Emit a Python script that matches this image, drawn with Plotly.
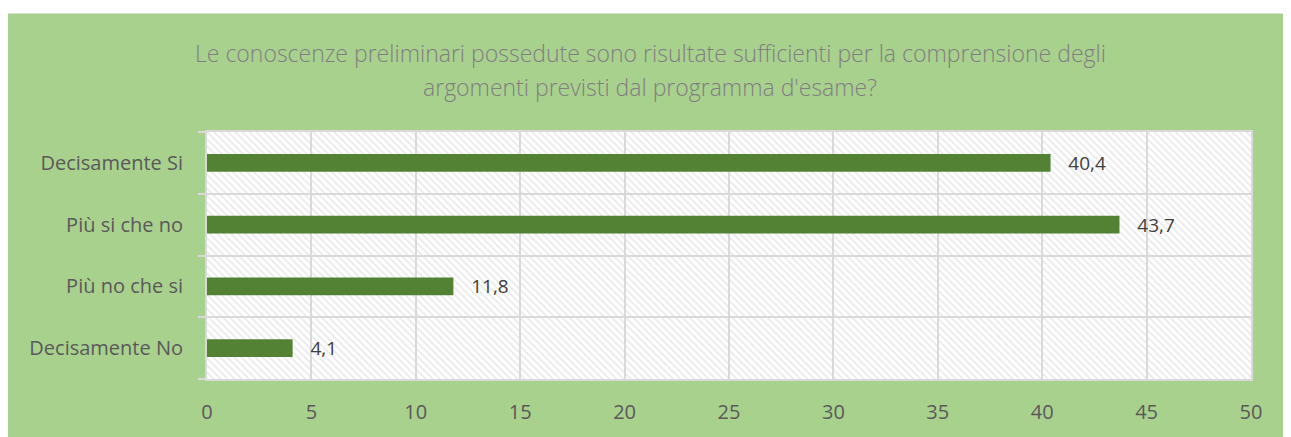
import plotly.graph_objects as go

categories = ["Decisamente Si", "Più si che no", "Più no che si", "Decisamente No"]
values = [40.4, 43.7, 11.8, 4.1]
x_ticks = [0, 5, 10, 15, 20, 25, 30, 35, 40, 45, 50]
title_lines = [
    "Le conoscenze preliminari possedute sono risultate sufficienti per la comprensione degli",
    "argomenti previsti dal programma d'esame?",
]

X_MAX = 50
GRID = "#d9d9d9"
FONT = "Open Sans"

# figure geometry (page has an 8px body margin)
W, H = 1283, 429
ML, MR, MT, MB = 199, 40, 124, 55
PW, PH = W - ML - MR, H - MT - MB

fig = go.Figure()

# hatched plot-area background (subplot 1, drawn first)
fig.add_trace(go.Bar(
    y=categories, x=[X_MAX] * len(categories), orientation="h", width=1,
    marker=dict(color="white", line=dict(width=0),
                pattern=dict(shape="\\", fgcolor="#d0d0d0", bgcolor="white", size=5, solidity=0.3)),
    xaxis="x", yaxis="y", hoverinfo="skip", showlegend=False,
))

# data bars (subplot 2, with gridlines drawn above hatch)
fig.add_trace(go.Bar(
    y=categories, x=values, orientation="h", width=0.29,
    marker=dict(color="#548235", line=dict(width=0)),
    texttemplate="   %{x:.1f}", textposition="outside", cliponaxis=False,
    constraintext="none",
    textfont=dict(family=FONT, size=19, color="#404040"),
    xaxis="x2", yaxis="y2", showlegend=False,
))

axis_common_x = dict(range=[0, X_MAX], domain=[0, 1])
axis_common_y = dict(type="category", categoryorder="array", categoryarray=categories[::-1],
                     range=[-0.5, len(categories) - 0.5], domain=[0, 1])

title_y_px = [44, 78]  # vertical centres of the title lines, figure pixels
title_x = (642 - ML) / PW
annotations = [
    dict(text=t, xref="paper", yref="paper", x=title_x, y=1 + (MT - yp) / PH,
         xanchor="center", yanchor="middle", showarrow=False,
         font=dict(family=FONT, size=23, color="#7f7f7f", weight=300))
    for t, yp in zip(title_lines, title_y_px)
]

fig.update_layout(
    width=W, height=H,
    margin=dict(l=ML, r=MR, t=MT, b=MB),
    paper_bgcolor="#a9d18e", plot_bgcolor="rgba(0,0,0,0)",
    separators=",.",
    showlegend=False,
    annotations=annotations,
    xaxis=dict(**axis_common_x, showgrid=False, showticklabels=False, zeroline=False,
               showline=False, anchor="y"),
    yaxis=dict(**axis_common_y, showgrid=False, showticklabels=False, zeroline=False,
               showline=False, anchor="x"),
    xaxis2=dict(**axis_common_x, anchor="y2", tickvals=x_ticks,
                showgrid=True, gridcolor=GRID, gridwidth=2, zeroline=False,
                showline=True, linecolor=GRID, linewidth=2, mirror=True,
                ticks="", ticklabelstandoff=14,
                tickfont=dict(family=FONT, size=20, color="#595959")),
    yaxis2=dict(**axis_common_y, anchor="x2", tickson="boundaries",
                showgrid=True, gridcolor=GRID, gridwidth=2, zeroline=False,
                showline=True, linecolor=GRID, linewidth=2, mirror=True,
                ticks="outside", ticklen=7, tickcolor=GRID, tickwidth=2,
                ticklabelstandoff=18,
                tickfont=dict(family=FONT, size=20, color="#595959")),
    shapes=[dict(type="rect", xref="paper", yref="paper", layer="below",
                 x0=-ML / PW, x1=1 + MR / PW, y0=1 + (MT - 4) / PH, y1=1 + MT / PH + 0.01,
                 fillcolor="white", line=dict(width=0))],
)

fig.write_html("out.html")
